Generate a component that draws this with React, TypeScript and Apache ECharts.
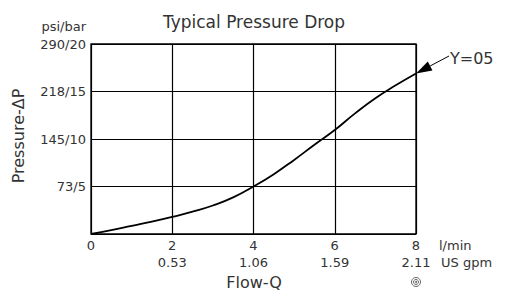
import React, { useEffect, useRef } from "react";
import * as echarts from "echarts";

const flowLpm = [0, 0.5, 1, 1.5, 2, 2.5, 3, 3.5, 4, 4.5, 5, 5.5, 6, 6.5, 7, 7.5, 8];
const pressureBar = [0, 0.4, 0.85, 1.3, 1.8, 2.35, 3.0, 3.85, 5.0, 6.3, 7.8, 9.4, 10.95, 12.7, 14.3, 15.65, 16.9];
const xTicks = [0, 2, 4, 6, 8];
const xTickGpm = ["", "0.53", "1.06", "1.59", "2.11"];
const yTicks = [0, 5, 10, 15, 20];
const yTickLabels = ["", "73/5", "145/10", "218/15", "290/20"];

const FONT = "DejaVu Sans";
const TXT = "#333";

export default function App() {
  const ref = useRef<HTMLDivElement>(null);
  useEffect(() => {
    if (!ref.current) return;
    const chart = echarts.init(ref.current, undefined, { renderer: "svg" });
    const left = 91, right = 91, top = 44, bottom = 64;
    chart.setOption({
      animation: false,
      grid: { left, right, top, bottom, show: true, borderColor: "#000", borderWidth: 1.3 },
      xAxis: {
        type: "value", min: 0, max: 8, interval: 2,
        axisLine: { show: false }, axisTick: { show: false },
        splitLine: { show: true, lineStyle: { color: "#000", width: 1.2 } },
        axisLabel: {
          margin: 3, color: TXT, fontFamily: FONT, fontSize: 13, lineHeight: 17,
          formatter: (v: number) => {
            const i = xTicks.indexOf(v);
            return i > 0 ? `${v}\n${xTickGpm[i]}` : `${v}`;
          },
          verticalAlign: "top",
        },
      },
      yAxis: {
        type: "value", min: 0, max: 20, interval: 5,
        axisLine: { show: false }, axisTick: { show: false },
        splitLine: { show: true, lineStyle: { color: "#000", width: 1.2 } },
        axisLabel: {
          margin: 5, color: TXT, fontFamily: FONT, fontSize: 13,
          formatter: (v: number) => yTickLabels[yTicks.indexOf(v)] ?? "",
        },
      },
      series: [{
        type: "line", smooth: 0.5, showSymbol: false,
        data: flowLpm.map((x, i) => [x, pressureBar[i]]),
        lineStyle: { color: "#000", width: 1.8 },
      }],
    });
    const tip = chart.convertToPixel({ gridIndex: 0 }, [flowLpm[flowLpm.length - 1], pressureBar[pressureBar.length - 1]]) as number[];
    const tail = [449, 56];
    const dx = tail[0] - tip[0], dy = tail[1] - tip[1];
    const len = Math.hypot(dx, dy);
    const ux = dx / len, uy = dy / len;
    const hl = 16, hw = 5;
    const bx = tip[0] + ux * hl, by = tip[1] + uy * hl;
    chart.setOption({
      graphic: [
        { type: "text", x: 254, y: 22, style: { text: "Typical Pressure Drop", fill: TXT, font: `17px ${FONT}`, textAlign: "center", textVerticalAlign: "middle" } },
        { type: "text", x: 86, y: 26, style: { text: "psi/bar", fill: TXT, font: `13px ${FONT}`, textAlign: "right", textVerticalAlign: "middle" } },
        { type: "text", x: 18, y: 136, rotation: Math.PI / 2, style: { text: "Pressure-ΔP", fill: TXT, font: `16px ${FONT}`, textAlign: "center", textVerticalAlign: "middle" } },
        { type: "text", x: 254, y: 282, style: { text: "Flow-Q", fill: TXT, font: `16px ${FONT}`, textAlign: "center", textVerticalAlign: "middle" } },
        { type: "text", x: 439, y: 245, style: { text: "l/min", fill: TXT, font: `13px ${FONT}`, textAlign: "left", textVerticalAlign: "middle" } },
        { type: "text", x: 441, y: 262, style: { text: "US gpm", fill: TXT, font: `13px ${FONT}`, textAlign: "left", textVerticalAlign: "middle" } },
        { type: "text", x: 450, y: 58, style: { text: "Y=05", fill: TXT, font: `16px ${FONT}`, textAlign: "left", textVerticalAlign: "middle" } },
        { type: "line", shape: { x1: tail[0], y1: tail[1], x2: bx, y2: by }, style: { stroke: "#000", lineWidth: 1 } },
        { type: "polygon", shape: { points: [tip, [bx - uy * hw, by + ux * hw], [bx + uy * hw, by - ux * hw]] }, style: { fill: "#000" } },
        { type: "circle", shape: { cx: 416, cy: 282, r: 4.5 }, style: { fill: "none", stroke: "#666", lineWidth: 1 } },
        { type: "circle", shape: { cx: 416, cy: 282, r: 2.5 }, style: { fill: "none", stroke: "#666", lineWidth: 1 } },
        { type: "circle", shape: { cx: 416, cy: 282, r: 1 }, style: { fill: "#666" } },
      ],
    });
    return () => chart.dispose();
  }, []);
  return <div ref={ref} style={{ width: 507, height: 298, position: "absolute", left: 0, top: 0 }} />;
}
